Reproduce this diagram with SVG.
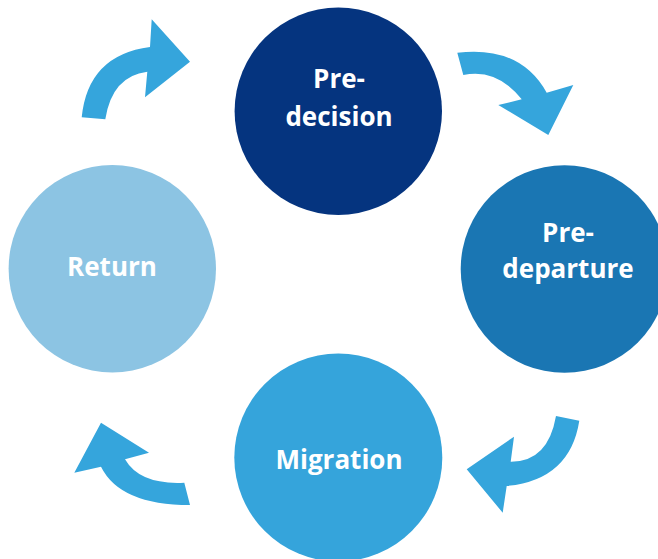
<svg xmlns="http://www.w3.org/2000/svg" width="658" height="559" viewBox="0 0 658 559">
<style>
.lbl{font-family:"Open Sans","Noto Sans","Liberation Sans",sans-serif;font-weight:700;font-size:26px;fill:#ffffff;text-anchor:middle}
.arr{fill:#35a5dc;stroke:none}
</style>
<rect width="658" height="559" fill="#ffffff"/>
<g id="connectors">
<path class="arr" d="M81.7 117.3 Q88 55 150 47 L151.7 19.3 L190 61.7 L145 97.3 L147.3 71.7 Q112 76 105.3 119.3 Z"/>
<path class="arr" d="M457.3 52.7 Q520 45 546.7 92.7 L573.3 85 L548.3 135 L498.3 105 L521.7 99.3 Q497 68 463.3 75 Z"/>
<path class="arr" d="M579.3 420.7 Q570 480 506.7 486 L502.7 512.7 L466.7 469.3 L514 436.7 L510.7 461.7 Q548 462 556 416 Z"/>
<path class="arr" d="M190 505 Q120 505 101 466.7 L74.3 472.7 L101 422.7 L149 452.7 L125 459.3 Q140 485 184.3 482.7 Z"/>
</g>
<g id="pre-decision">
<circle cx="338.3" cy="111.2" r="103.7" fill="#05347f"/>
<text class="lbl" x="339" y="88">Pre-</text>
<text class="lbl" x="339" y="125.5">decision</text>
</g>
<g id="pre-departure">
<circle cx="564.5" cy="269" r="103.8" fill="#1a76b3"/>
<text class="lbl" x="568" y="241.5">Pre-</text>
<text class="lbl" x="568" y="278">departure</text>
</g>
<g id="migration">
<circle cx="338.3" cy="457.5" r="104" fill="#35a4db"/>
<text class="lbl" x="339" y="469">Migration</text>
</g>
<g id="return">
<circle cx="112.3" cy="268.8" r="103.7" fill="#8cc4e3"/>
<text class="lbl" x="112" y="276">Return</text>
</g>
</svg>
